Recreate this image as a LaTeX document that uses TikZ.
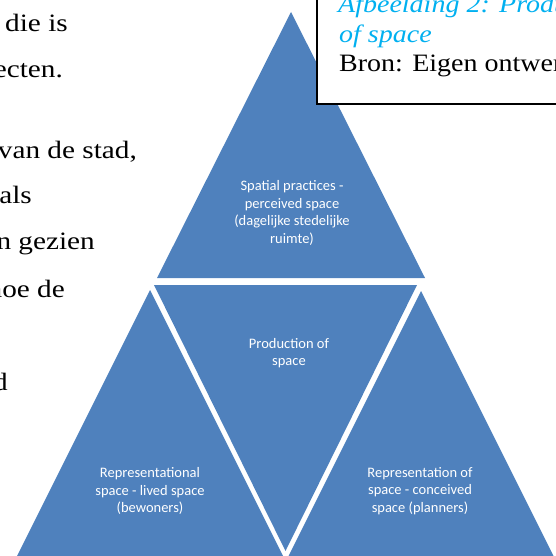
\documentclass[tikz,border=0pt]{standalone}
\usepackage{fontspec}
\setmainfont{Liberation Serif}[FakeStretch=1.12]
\newfontfamily\bodyfont{Liberation Serif}[FakeStretch=1.17]
\newfontfamily\labelfont{Carlito}
\definecolor{triblue}{RGB}{79,129,189}
\definecolor{capblue}{RGB}{0,176,240}
\tikzset{
tri/.style={fill=triblue}, % the four blue triangles
trilabel/.style={text=white, font=\labelfont\fontsize{14.5}{17.5}\selectfont, align=center, inner sep=0pt}, % text inside a triangle
bodytext/.style={font=\bodyfont\fontsize{25}{30}\selectfont, anchor=base east, inner sep=0pt}, % running text, cut off at the left
captext/.style={font=\fontsize{25}{30}\selectfont, anchor=base west, inner sep=0pt}, % text in the caption box
capitalic/.style={captext, text=capblue, font=\fontsize{25}{30}\selectfont\itshape},
}

\begin{document}
\begin{tikzpicture}[x=1pt, y=-1pt]
\useasboundingbox (0,0) rectangle (556,556);
\clip (0,0) rectangle (556,556);

% triangles
\fill[tri] (291,12) -- (425,278) -- (157,278) -- cycle; % top
\fill[tri] (154,285) -- (417,285) -- (285.5,551) -- cycle; % middle, upside down
\fill[tri] (150,290) -- (285,560) -- (15,560) -- cycle; % bottom left
\fill[tri] (421,291) -- (555.5,560) -- (286.5,560) -- cycle; % bottom right

\node[trilabel] (spatial) at (292,213) {Spatial practices -\\perceived space\\(dagelijke stedelijke\\ruimte)};
\node[trilabel] (production) at (289,353) {Production of\\space};
\node[trilabel] (lived) at (150,491) {Representational\\space - lived space\\(bewoners)};
\node[trilabel] (conceived) at (420,491) {Representation of\\space - conceived\\space (planners)};

% running text
\node[bodytext] (line1) at (68,32) {s die is};
\node[bodytext] (line2) at (63,78) {ecten.};
\node[bodytext] (line3) at (137,158) {van de stad,};
\node[bodytext] (line4) at (32,203) {als};
\node[bodytext] (line5) at (95,249) {n gezien};
\node[bodytext] (line6) at (65,297) {hoe de};
\node[bodytext] (line7) at (8,390) {d};

% caption box
\draw[fill=white, line width=1.6pt] (317,-10) rectangle (570,104);
\node[capitalic] (captitle) at (338,13) {Afbeelding 2: Production};
\node[capitalic] (capspace) at (339,43) {of space};
\node[captext] (capsource) at (339,72) {Bron: Eigen ontwerp};
\end{tikzpicture}
\end{document}
